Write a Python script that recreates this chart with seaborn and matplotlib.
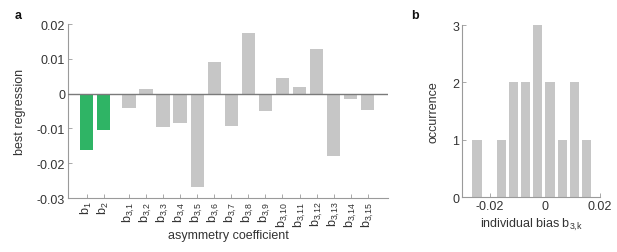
import numpy as np
import pandas as pd
import matplotlib
matplotlib.use("Agg")
import matplotlib.pyplot as plt
import seaborn as sns

# ---- data ----
coef_labels = ["b_{1}", "b_{2}"] + [f"b_{{3{{,}}{k}}}" for k in range(1, 16)]
coef_groups = ["b12", "b12"] + ["b3"] * 15
coef_values = [-0.0161, -0.0104,
               -0.0040, 0.0014, -0.0096, -0.0085, -0.0268, 0.0090, -0.0093,
               0.0174, -0.0049, 0.0044, 0.0018, 0.0128, -0.0179, -0.0015, -0.0046]
b3_values = coef_values[2:]

# positions (gap between b2 and b3 block)
positions = [1, 2] + [2.5 + k for k in range(1, 16)]

sns.set_theme(style="white")
plt.rcParams["font.family"] = ["Liberation Sans", "DejaVu Sans"]
plt.rcParams["mathtext.fontset"] = "custom"
plt.rcParams["mathtext.rm"] = "Liberation Sans"

GREEN = "#2fb465"
GRAY = "#c6c6c6"
SPINE = "#9a9a9a"
TXT = "#333333"

fig = plt.figure(figsize=(6.17, 2.53), dpi=100)
axA = fig.add_axes([0.110, 0.2134, 0.519, 0.6876])
axB = fig.add_axes([0.749, 0.217, 0.223, 0.680])

df = pd.DataFrame({"pos": positions, "val": coef_values, "grp": coef_groups})
sns.barplot(data=df, x="pos", y="val", hue="grp", palette={"b12": GREEN, "b3": GRAY},
            native_scale=True, dodge=False, width=0.8, legend=False, ax=axA,
            saturation=1, edgecolor="none", linewidth=0)
axA.axhline(0, color="#7a7a7a", lw=1.0, zorder=3)
axA.set_xlim(-0.1, 18.7)
axA.set_ylim(-0.03, 0.02)
axA.set_yticks([-0.03, -0.02, -0.01, 0, 0.01, 0.02])
axA.set_yticklabels(["-0.03", "-0.02", "-0.01", "0", "0.01", "0.02"])
axA.set_xticks(positions)
axA.set_xticklabels([f"$\\mathregular{{{l}}}$" for l in coef_labels], rotation=90)
axA.set_xlabel("asymmetry coefficient", fontsize=9, color=TXT, labelpad=2)
axA.set_ylabel("best regression", fontsize=9, color=TXT, labelpad=8)

sns.histplot(x=b3_values, bins=10, shrink=0.76, color=GRAY, alpha=1,
             edgecolor="none", linewidth=0, ax=axB)
axB.set_xlim(-0.03, 0.02)
axB.set_ylim(0, 3)
axB.set_xticks([-0.02, 0, 0.02])
axB.set_xticklabels(["-0.02", "0", "0.02"])
axB.set_yticks([0, 1, 2, 3])
axB.set_xlabel("individual bias $\\mathregular{b_{3{,}k}}$", fontsize=9, color=TXT, labelpad=3)
axB.set_ylabel("occurrence", fontsize=9, color=TXT, labelpad=9)

for ax in (axA, axB):
    for s in ("top", "right"):
        ax.spines[s].set_visible(False)
    for s in ("left", "bottom"):
        ax.spines[s].set_color(SPINE)
        ax.spines[s].set_linewidth(0.8)
    ax.tick_params(direction="in", length=3, width=0.6, color=SPINE,
                   labelsize=9, labelcolor=TXT, pad=2, left=True, bottom=True)

fig.text(0.024, 0.925, "a", fontsize=9, fontweight="bold", color="#111111")
fig.text(0.667, 0.925, "b", fontsize=9, fontweight="bold", color="#111111")

fig.savefig("out.png", dpi=100)
